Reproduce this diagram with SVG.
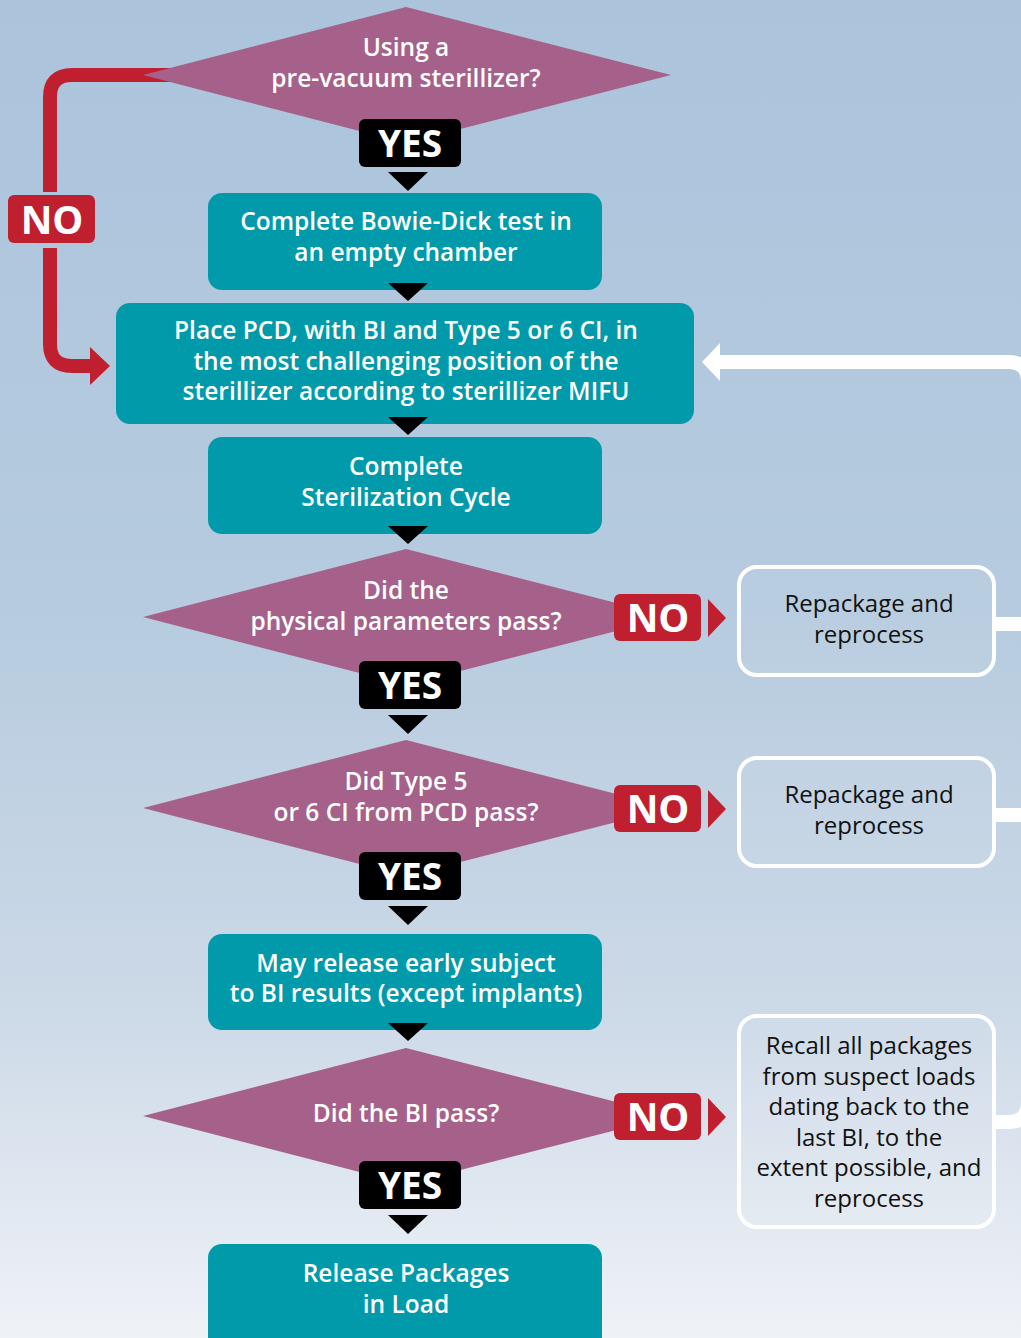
<svg xmlns="http://www.w3.org/2000/svg" width="1021" height="1338" viewBox="0 0 1021 1338">
<defs>
<linearGradient id="bg" x1="0" y1="0" x2="0" y2="1">
<stop offset="0" stop-color="#abc4dc"/>
<stop offset="0.45" stop-color="#b6cbdf"/>
<stop offset="0.75" stop-color="#ccd9e7"/>
<stop offset="1" stop-color="#eff2f7"/>
</linearGradient>
<style>
.dia{fill:#a5618a}
.box{fill:#009aab}
.rbox{fill:#ffffff;fill-opacity:0.05;stroke:#ffffff;stroke-width:4}
.wt{font-family:"Open Sans","Liberation Sans",sans-serif;font-weight:600;font-size:24.5px;fill:#ffffff;text-anchor:middle}
.bt{font-family:"Open Sans","Liberation Sans",sans-serif;font-weight:400;font-size:24px;fill:#111111;text-anchor:middle}
.yes{fill:#000000}
.yt{font-family:"Open Sans","Liberation Sans",sans-serif;font-weight:700;font-size:37px;fill:#ffffff;text-anchor:middle}
.no{fill:#c01f30}
.nt{font-family:"Open Sans","Liberation Sans",sans-serif;font-weight:700;font-size:39px;fill:#ffffff;text-anchor:middle}
.tri{fill:#000000}
.rtri{fill:#c01f30}
.red{fill:none;stroke:#c01f30;stroke-width:14}
.wl{fill:none;stroke:#ffffff;stroke-width:14}
</style>
</defs>
<rect x="0" y="0" width="1021" height="1338" fill="url(#bg)"/>

<g id="connectors">
<path class="red" d="M200 75 H72 Q50 75 50 97 V192"/>
<path class="red" d="M50 248 V344 Q50 366 72 366 H92"/>
<polygon class="rtri" points="110,366 90,347 90,385"/>
<path class="wl" d="M995 624 H1040"/>
<path class="wl" d="M995 815 H1040"/>
<path class="wl" d="M995 1122 H1008 Q1028 1122 1028 1102 V382 Q1028 362 1008 362 H718"/>
<polygon fill="#ffffff" points="702,362 720,343 720,381"/>
<polygon class="rtri" points="708,599 726,618 708,637"/>
<polygon class="rtri" points="708,790 726,809 708,828"/>
<polygon class="rtri" points="708,1098 726,1117 708,1136"/>
</g>

<g id="d1">
<polygon class="dia" points="406,7 671,75 406,143 143,75"/>
<text class="wt" x="406" y="56">Using a</text>
<text class="wt" x="406" y="87">pre-vacuum sterillizer?</text>
</g>
<g id="yes1"><rect class="yes" x="359" y="119" width="102" height="48" rx="6"/><text class="yt" x="410" y="157">YES</text></g>
<g id="no0"><rect class="no" x="8" y="195" width="87" height="48" rx="6"/><text class="nt" x="52" y="234">NO</text></g>

<g id="b2">
<rect class="box" x="208" y="193" width="394" height="97" rx="14"/>
<text class="wt" x="406" y="230">Complete Bowie-Dick test in</text>
<text class="wt" x="406" y="261">an empty chamber</text>
</g>

<g id="b3">
<rect class="box" x="116" y="303" width="578" height="121" rx="14"/>
<text class="wt" x="406" y="339">Place PCD, with BI and Type 5 or 6 CI, in</text>
<text class="wt" x="406" y="370">the most challenging position of the</text>
<text class="wt" x="406" y="400">sterillizer according to sterillizer MIFU</text>
</g>

<g id="b4">
<rect class="box" x="208" y="437" width="394" height="97" rx="14"/>
<text class="wt" x="406" y="475">Complete</text>
<text class="wt" x="406" y="506">Sterilization Cycle</text>
</g>

<g id="d2">
<polygon class="dia" points="406,549 671,617 406,685 143,617"/>
<text class="wt" x="406" y="599">Did the</text>
<text class="wt" x="406" y="630">physical parameters pass?</text>
</g>
<g id="no1"><rect class="no" x="614" y="594" width="87" height="47" rx="6"/><text class="nt" x="658" y="632">NO</text></g>
<g id="yes2"><rect class="yes" x="359" y="661" width="102" height="48" rx="6"/><text class="yt" x="410" y="699">YES</text></g>

<g id="r1">
<rect class="rbox" x="739" y="567" width="255" height="108" rx="18"/>
<text class="bt" x="869" y="612">Repackage and</text>
<text class="bt" x="869" y="643">reprocess</text>
</g>

<g id="d3">
<polygon class="dia" points="406,740 671,808 406,876 143,808"/>
<text class="wt" x="406" y="790">Did Type 5</text>
<text class="wt" x="406" y="821">or 6 CI from PCD pass?</text>
</g>
<g id="no2"><rect class="no" x="614" y="785" width="87" height="47" rx="6"/><text class="nt" x="658" y="823">NO</text></g>
<g id="yes3"><rect class="yes" x="359" y="852" width="102" height="48" rx="6"/><text class="yt" x="410" y="890">YES</text></g>

<g id="r2">
<rect class="rbox" x="739" y="758" width="255" height="108" rx="18"/>
<text class="bt" x="869" y="803">Repackage and</text>
<text class="bt" x="869" y="834">reprocess</text>
</g>

<g id="b5">
<rect class="box" x="208" y="934" width="394" height="96" rx="14"/>
<text class="wt" x="406" y="972">May release early subject</text>
<text class="wt" x="406" y="1002">to BI results (except implants)</text>
</g>

<g id="d4">
<polygon class="dia" points="406,1048 671,1116 406,1184 143,1116"/>
<text class="wt" x="406" y="1122">Did the BI pass?</text>
</g>
<g id="no3"><rect class="no" x="614" y="1093" width="87" height="47" rx="6"/><text class="nt" x="658" y="1131">NO</text></g>
<g id="yes4"><rect class="yes" x="359" y="1161" width="102" height="48" rx="6"/><text class="yt" x="410" y="1199">YES</text></g>

<g id="r3">
<rect class="rbox" x="739" y="1016" width="255" height="211" rx="18"/>
<text class="bt" x="869" y="1054">Recall all packages</text>
<text class="bt" x="869" y="1085">from suspect loads</text>
<text class="bt" x="869" y="1115">dating back to the</text>
<text class="bt" x="869" y="1146">last BI, to the</text>
<text class="bt" x="869" y="1176">extent possible, and</text>
<text class="bt" x="869" y="1207">reprocess</text>
</g>

<g id="b6">
<rect class="box" x="208" y="1244" width="394" height="110" rx="14"/>
<text class="wt" x="406" y="1282">Release Packages</text>
<text class="wt" x="406" y="1313">in Load</text>
</g>

<g id="arrowheads">
<polygon class="tri" points="388,172 428,172 408,191"/>
<polygon class="tri" points="388,283 428,283 408,301"/>
<polygon class="tri" points="388,417 428,417 408,435"/>
<polygon class="tri" points="388,526 428,526 408,544"/>
<polygon class="tri" points="388,715 428,715 408,734"/>
<polygon class="tri" points="388,906 428,906 408,925"/>
<polygon class="tri" points="388,1023 428,1023 408,1041"/>
<polygon class="tri" points="388,1215 428,1215 408,1234"/>
</g>
</svg>
